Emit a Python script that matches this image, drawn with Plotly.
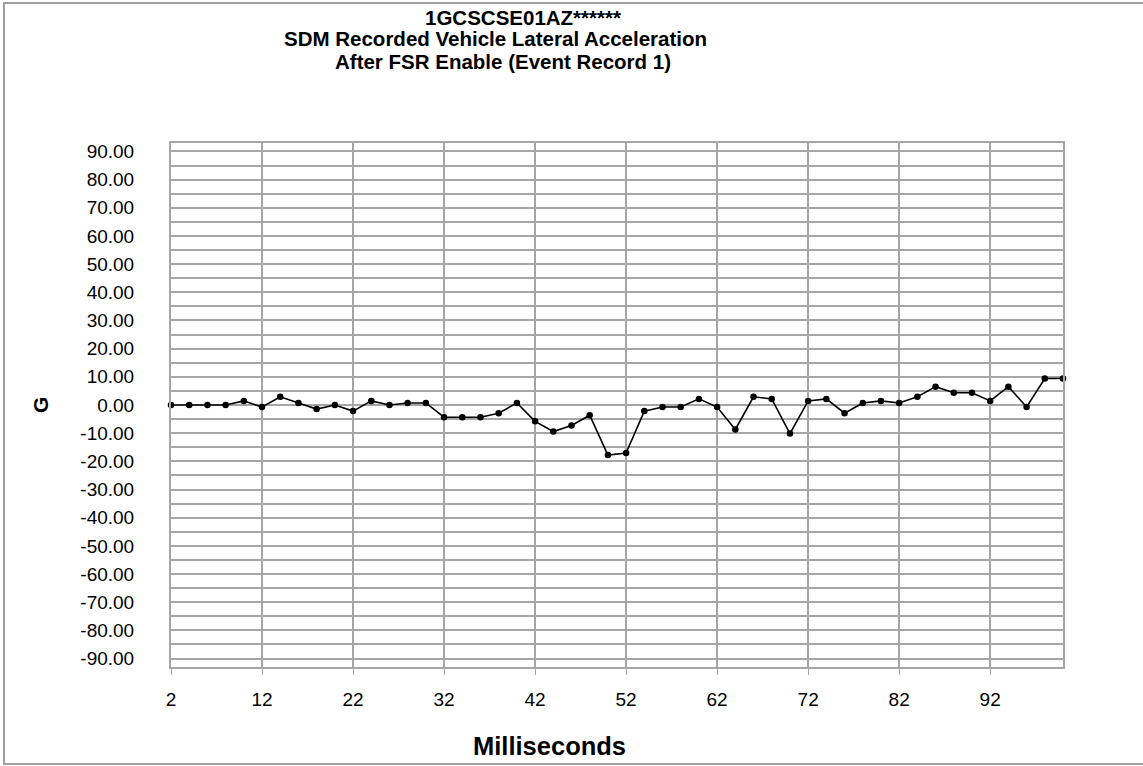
import plotly.graph_objects as go

# Time after FSR enable (ms) and recorded lateral acceleration (G)
milliseconds = [2, 4, 6, 8, 10, 12, 14, 16, 18, 20,
                22, 24, 26, 28, 30, 32, 34, 36, 38, 40,
                42, 44, 46, 48, 50, 52, 54, 56, 58, 60,
                62, 64, 66, 68, 70, 72, 74, 76, 78, 80,
                82, 84, 86, 88, 90, 92, 94, 96, 98, 100]
lateral_g = [0.00, 0.00, 0.00, 0.00, 1.45, -0.72, 2.90, 0.72, -1.45, 0.00,
             -2.17, 1.45, 0.00, 0.72, 0.72, -4.35, -4.35, -4.35, -2.90, 0.72,
             -5.80, -9.42, -7.25, -3.62, -17.76, -17.03, -2.17, -0.72, -0.72, 2.17,
             -0.72, -8.70, 2.90, 2.17, -10.15, 1.45, 2.17, -2.90, 0.72, 1.45,
             0.72, 2.90, 6.52, 4.35, 4.35, 1.45, 6.52, -0.72, 9.42, 9.42]

x_tickvals = [2, 12, 22, 32, 42, 52, 62, 72, 82, 92]
y_tickvals = list(range(-90, 95, 5))
y_ticktext = [f"{v:.2f}" if v % 10 == 0 else "" for v in y_tickvals]

title_lines = ["1GCSCSE01AZ******",
               "SDM Recorded Vehicle Lateral Acceleration",
               "After FSR Enable (Event Record 1)"]
x_title = "Milliseconds"
y_title = "G"

FONT = "Arial, Liberation Sans, sans-serif"
GRID = "#a6a6a6"

fig = go.Figure()
fig.add_trace(go.Scatter(
    x=milliseconds, y=lateral_g, mode="lines+markers",
    line=dict(color="black", width=1.6),
    marker=dict(color="black", size=6.5),
    showlegend=False, cliponaxis=False,
))

W, H = 1143, 766
L, R, T, B = 171, 80, 143, 99
PW, PH = W - L - R, H - T - B


def px_to_paper(px, py):
    return (px - L) / PW, (H - B - py) / PH


fig.update_layout(
    width=W, height=H,
    margin=dict(l=L, r=R, t=T, b=B),
    paper_bgcolor="white", plot_bgcolor="white",
    font=dict(family=FONT, color="black", size=20),
    xaxis=dict(
        range=[2, 100], tickvals=x_tickvals,
        showgrid=True, gridcolor=GRID, gridwidth=2,
        showline=True, linecolor=GRID, linewidth=2, mirror=True,
        ticks="outside", ticklen=6, tickcolor=GRID, tickwidth=1,
        tickfont=dict(size=19), ticklabelstandoff=8,
        zeroline=False,
    ),
    yaxis=dict(
        range=[-93, 93], tickvals=y_tickvals, ticktext=y_ticktext,
        showgrid=True, gridcolor=GRID, gridwidth=2,
        showline=True, linecolor=GRID, linewidth=2, mirror=True,
        ticks="", tickfont=dict(size=19), ticklabelstandoff=31,
        zeroline=False,
    ),
)

# Title block, three bold lines
title_pos = [(523, 17), (495, 39), (503, 61)]
for text, (px, py) in zip(title_lines, title_pos):
    ax, ay = px_to_paper(px, py)
    fig.add_annotation(
        text=f"<b>{text}</b>", xref="paper", yref="paper", x=ax, y=ay,
        xanchor="center", yanchor="middle", showarrow=False,
        font=dict(size=20.5, family=FONT),
    )

# Axis titles
ax, ay = px_to_paper(549, 746)
fig.add_annotation(text=f"<b>{x_title}</b>", xref="paper", yref="paper",
                   x=ax, y=ay, xanchor="center", yanchor="middle",
                   showarrow=False, font=dict(size=25.5, family=FONT))
ax, ay = px_to_paper(40, 405)
fig.add_annotation(text=f"<b>{y_title}</b>", xref="paper", yref="paper",
                   x=ax, y=ay, xanchor="center", yanchor="middle",
                   textangle=-90, showarrow=False, font=dict(size=21, family=FONT))

# Outer chart frame (left, top and bottom edges visible)
x0, y0 = px_to_paper(4, 764)
x1, y1 = px_to_paper(1300, 3)
fig.add_shape(
    type="rect", xref="paper", yref="paper", x0=x0, x1=x1, y0=y0, y1=y1,
    line=dict(color="#a0a0a0", width=2), layer="below",
)

fig.write_html("out.html")
